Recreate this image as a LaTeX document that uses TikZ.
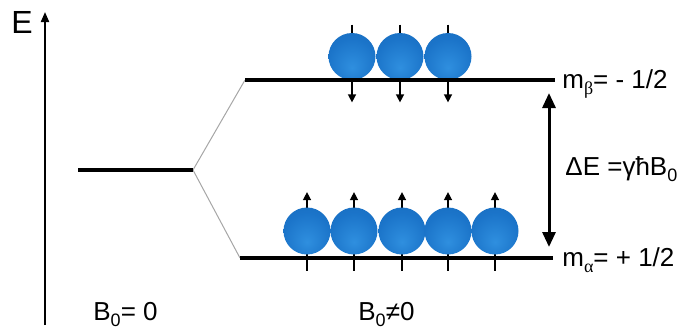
\documentclass[tikz,border=0pt]{standalone}
\usepackage{fontspec}
\setmainfont{Liberation Sans}
\newfontfamily\grk{Liberation Serif}
\usetikzlibrary{arrows.meta,backgrounds}
\definecolor{spinhi}{HTML}{2F8FDF}
\definecolor{spinmid}{HTML}{1B74C9}
\definecolor{spinlo}{HTML}{0A468A}
\definecolor{fork}{gray}{0.65}
\pgfdeclareradialshading{spinball}{\pgfpoint{0bp}{-12bp}}{color(0bp)=(spinhi); color(26bp)=(spinmid); color(44bp)=(spinmid!80!spinlo); color(62bp)=(spinlo)}
\newcommand{\lo}[1]{\raisebox{-0.45ex}{\fontsize{9}{9}\selectfont #1}}
\tikzset{
  lvl/.style={line width=2pt},
  ball/.style={circle, minimum size=23.5pt, inner sep=0pt, shading=spinball},
  spin/.style={line width=0.7pt, -{Triangle[length=4pt, width=4pt]}},
  lbl/.style={font=\fontsize{13}{15}\selectfont, inner sep=0pt}}

\begin{document}
\begin{tikzpicture}[x=0.5pt, y=-0.5pt]
\useasboundingbox (0,0) rectangle (685,332);
% energy axis
\coordinate (e0) at (45,325);
\coordinate (e1) at (45,12);
\draw[line width=1pt, -{Triangle[length=5pt, width=4pt]}] (e0) -- (e1);
\node[lbl, font=\fontsize{16}{18}\selectfont, anchor=base] (elbl) at (22,33) {E};
% levels
\coordinate (z0) at (78,170);  \coordinate (z1) at (193,170);
\coordinate (u0) at (245,80);  \coordinate (u1) at (555,80);
\coordinate (d0) at (240,258); \coordinate (d1) at (553,258);
\draw[fork, line width=0.5pt] (u0) -- (z1) -- (d0);
% spins, drawn behind the balls
\foreach \x [count=\i] in {352,400,448}
  \node[ball] (b\i) at (\x,56.5) {};
\foreach \x [count=\i] in {307,354,402,448,495}
  \node[ball] (a\i) at (\x,231) {};
\begin{scope}[on background layer]
\foreach \i in {1,2,3}
  \draw[spin] ([yshift=4pt]b\i.north) -- ([yshift=-11pt]b\i.south);
\foreach \i in {1,...,5}
  \draw[spin] ([yshift=-8pt]a\i.south) -- ([yshift=7.5pt]a\i.north);
\end{scope}
\draw[lvl] (z0) -- (z1);
\draw[lvl] (u0) -- (u1);
\draw[lvl] (d0) -- (d1);
% splitting
\coordinate (g0) at (549,93);
\coordinate (g1) at (549,247);
\draw[line width=1.5pt, {Triangle[length=7.5pt, width=6.5pt]}-{Triangle[length=7.5pt, width=6.5pt]}] (g0) -- (g1);
\node[lbl, anchor=base west] (mb) at (562,88) {m\lo{\grk β}= - 1/2};
\node[lbl, anchor=base west] (ma) at (562,266) {m\lo{\grk α}= + 1/2};
\node[lbl, anchor=base west] (de) at (565,175) {ΔE =γħB\lo{0}};
\node[lbl, anchor=base west] (f0) at (93,320) {B\lo{0}= 0};
\node[lbl, anchor=base west] (f1) at (358,320) {B\lo{0}≠0};
\end{tikzpicture}
\end{document}
